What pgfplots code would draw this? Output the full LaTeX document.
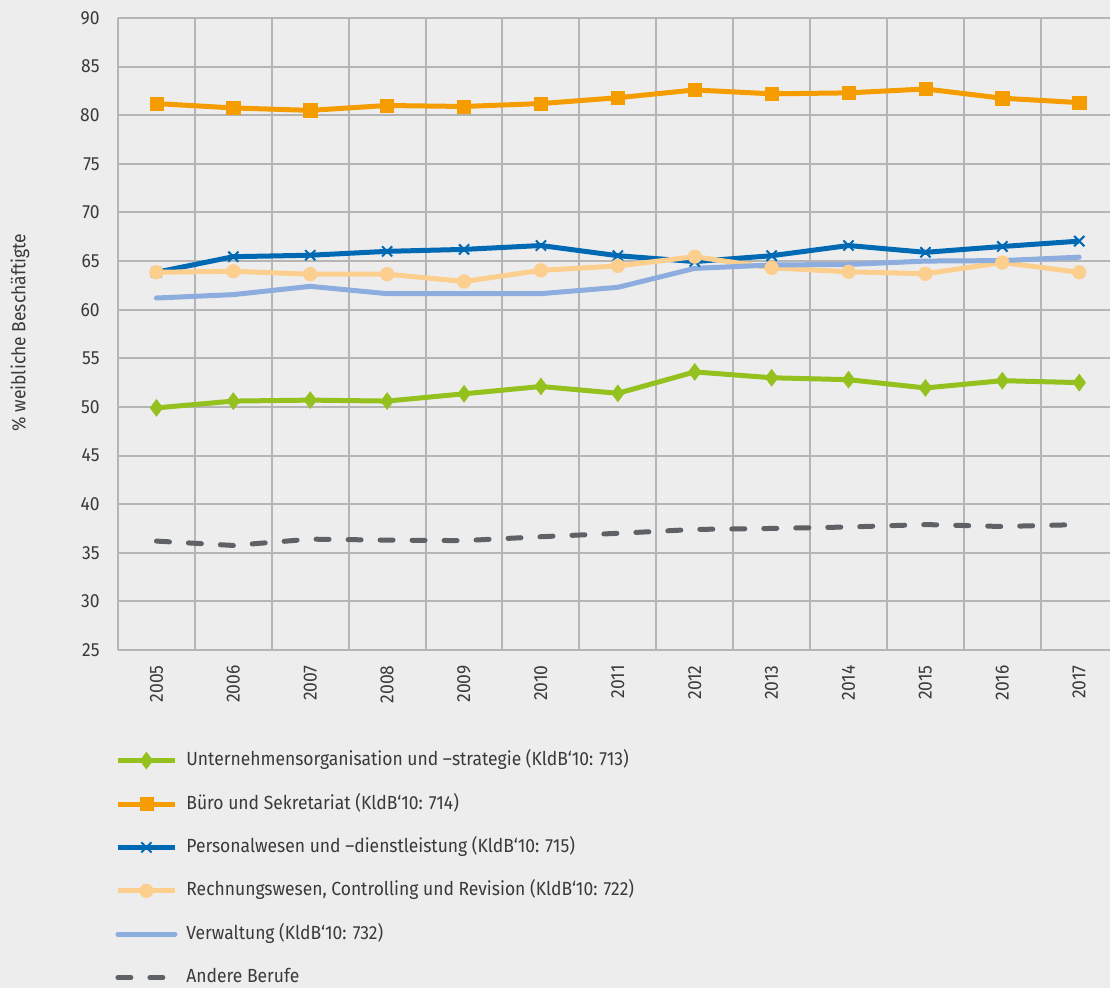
\documentclass[border=0pt]{standalone}
\usepackage{pgfplots}
\pgfplotsset{compat=1.18}
\usepackage{fontspec}
\setmainfont{Fira Sans}[FakeStretch=0.92]
\definecolor{bg}{HTML}{EDEDED}
\definecolor{gridc}{HTML}{B5B5B5}
\definecolor{txt}{HTML}{3A3A3A}
\definecolor{cgreen}{HTML}{95C11F}
\definecolor{corange}{HTML}{F59C00}
\definecolor{cblue}{HTML}{0069B4}
\definecolor{clorange}{HTML}{FDCF8E}
\definecolor{clblue}{HTML}{8DADDE}
\definecolor{cgray}{HTML}{5E6166}
\begin{document}
\begin{tikzpicture}
\path[use as bounding box, fill=bg] (-59pt,-169pt) rectangle (496pt,325pt);
\begin{axis}[
  at={(0,0)}, anchor=south west,
  scale only axis, width=496pt, height=316pt,
  xmin=2004.5, xmax=2017.4, ymin=25, ymax=90,
  xtick={2005,...,2017}, ytick={25,30,...,90},
  minor xtick={2005.5,2006.5,...,2016.5},
  xmajorgrids=false, ymajorgrids=true, xminorgrids=true,
  grid style={gridc, line width=1pt},
  minor grid style={gridc, line width=1pt},
  axis x line*=bottom, axis y line*=left,
  axis line style={gridc, line width=1pt, -},
  major tick length=0pt, minor tick length=0pt,
  tick style={draw=none},
  /pgf/number format/assume math mode=true,
  /pgf/number format/1000 sep={},
  tick label style={font=\fontsize{9.5pt}{11pt}\selectfont, text=txt},
  yticklabel style={inner sep=0pt, xshift=-9pt, anchor=east},
  xticklabel style={inner sep=0pt, yshift=-7.5pt, rotate=90, anchor=east},
  ylabel={\% weibliche Beschäftigte},
  ylabel style={at={(axis description cs:-0.0988,0.502)}, anchor=center, font=\fontsize{9.5pt}{11pt}\selectfont, text=txt},
  legend style={at={(axis description cs:-0.003,-0.157)}, anchor=north west,
    draw=none, fill=none, inner sep=0pt, row sep=10.7pt, column sep=4.5pt,
    font=\fontsize{9.5pt}{11pt}\selectfont, text=txt,
    nodes={inner sep=0pt, text height=8pt, text depth=3pt}},
  legend cell align=left,
  legend image code/.code={
    \draw[mark repeat=2, mark phase=2, #1] plot coordinates {(0pt,0pt) (14.25pt,0pt) (28.5pt,0pt)};
  },
]
\addplot[cgreen, line width=2.5pt, mark=diamond*, mark size=4.2pt, mark options={solid, line width=0.3pt}] coordinates {
(2005,49.9) (2006,50.6) (2007,50.7) (2008,50.6) (2009,51.35) (2010,52.1) (2011,51.4)
(2012,53.6) (2013,53.0) (2014,52.8) (2015,51.95) (2016,52.7) (2017,52.5)};
\addlegendentry{Unternehmensorganisation und –strategie (KldB‘10: 713)}
\addplot[corange, line width=2.5pt, mark=square*, mark size=3.3pt, mark options={line width=0.3pt}] coordinates {
(2005,81.2) (2006,80.75) (2007,80.5) (2008,81.0) (2009,80.9) (2010,81.2) (2011,81.8)
(2012,82.6) (2013,82.2) (2014,82.3) (2015,82.7) (2016,81.75) (2017,81.3)};
\addlegendentry{Büro und Sekretariat (KldB‘10: 714)}
\addplot[cblue, line width=2.5pt, mark=x, mark size=3.6pt, mark options={line width=1pt}] coordinates {
(2005,63.85) (2006,65.45) (2007,65.6) (2008,66.0) (2009,66.2) (2010,66.6) (2011,65.55)
(2012,64.95) (2013,65.55) (2014,66.6) (2015,65.9) (2016,66.5) (2017,67.05)};
\addlegendentry{Personalwesen und –dienstleistung (KldB‘10: 715)}
\addplot[clorange, line width=2.5pt, mark=*, mark size=3.4pt, mark options={line width=0.3pt}] coordinates {
(2005,63.85) (2006,63.95) (2007,63.65) (2008,63.65) (2009,62.9) (2010,64.05) (2011,64.5)
(2012,65.45) (2013,64.3) (2014,63.9) (2015,63.7) (2016,64.85) (2017,63.85)};
\addlegendentry{Rechnungswesen, Controlling und Revision (KldB‘10: 722)}
\addplot[clblue, line width=2.5pt, mark=none, line cap=round] coordinates {
(2005,61.2) (2006,61.55) (2007,62.4) (2008,61.65) (2009,61.65) (2010,61.65) (2011,62.3)
(2012,64.25) (2013,64.6) (2014,64.65) (2015,65.0) (2016,65.05) (2017,65.4)};
\addlegendentry{Verwaltung (KldB‘10: 732)}
\addplot[cgray, line width=2.5pt, mark=none, line cap=round, dash pattern=on 6.5pt off 9.5pt] coordinates {
(2005,36.2) (2006,35.75) (2007,36.4) (2008,36.3) (2009,36.25) (2010,36.65) (2011,37.0)
(2012,37.4) (2013,37.5) (2014,37.65) (2015,37.9) (2016,37.7) (2017,37.9)};
\addlegendentry{Andere Berufe}
\end{axis}
\end{tikzpicture}
\end{document}
